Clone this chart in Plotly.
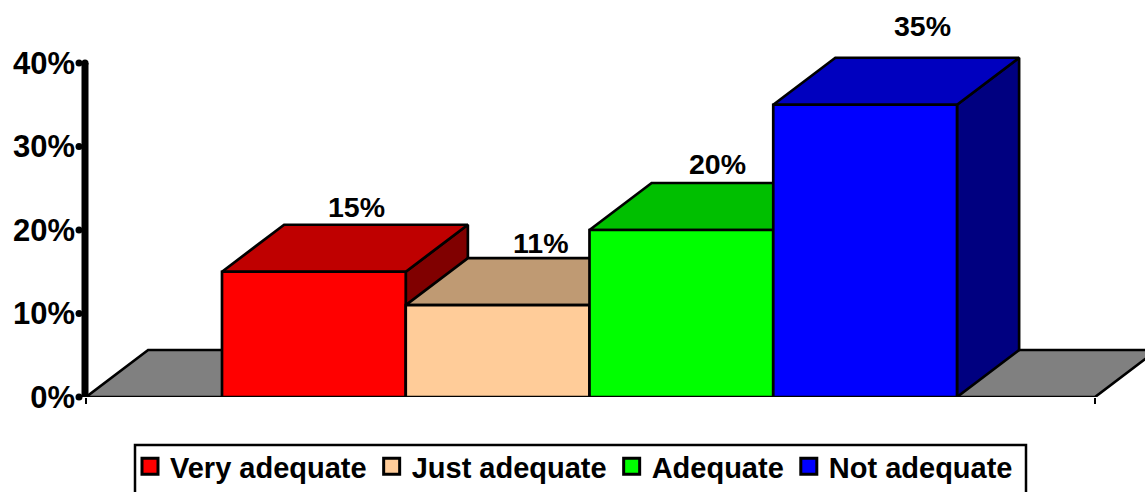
import plotly.graph_objects as go

# Survey result: share of answers per rating
categories = ["Very adequate", "Just adequate", "Adequate", "Not adequate"]
values = [15, 11, 20, 35]
front_colors = ["#FF0000", "#FFCC99", "#00FF00", "#0000FF"]
top_colors = ["#BF0000", "#BF9A73", "#00BF00", "#0000BF"]
side_colors = ["#800000", "#806650", "#008000", "#000080"]
y_ticks = [0, 10, 20, 30, 40]
y_labels = ["0%", "10%", "20%", "30%", "40%"]

# Label nudges in pixels, relative to the back edge of each bar's top
label_dx = [43, 43, 36, 57]
label_dy = [18, 15, 19, 32]

W, H = 1145, 492
LEFT, BOTTOM = 76, 95
PX_PER_BAR = 183.75
PX_PER_PCT = 8.35
BAR_ORIGIN = 222

DEPTH_X = 0.338   # oblique depth, in bar widths
DEPTH_Y = 5.63    # oblique depth, in percentage points
FLOOR_L = (86 - BAR_ORIGIN) / PX_PER_BAR
FLOOR_R = (1095 - BAR_ORIGIN) / PX_PER_BAR
AXIS_X = (85 - BAR_ORIGIN) / PX_PER_BAR
TICK_END_X = (79 - BAR_ORIGIN) / PX_PER_BAR
FONT = "Liberation Sans, Arial, sans-serif"
EDGE = dict(color="black", width=2.7)


def polygon(xs, ys, color):
    return go.Scatter(x=xs + xs[:1], y=ys + ys[:1], mode="lines", fill="toself",
                      fillcolor=color, line=EDGE, showlegend=False, hoverinfo="skip")


fig = go.Figure()

# Floor of the 3D scene
fig.add_trace(polygon([FLOOR_L, FLOOR_L + DEPTH_X, FLOOR_R + DEPTH_X, FLOOR_R],
                      [0, DEPTH_Y, DEPTH_Y, 0], "#808080"))

# Bars are painted left to right so that each one overlaps the previous one
for i, v in enumerate(values):
    l, r = i, i + 1
    fig.add_trace(polygon([r, r + DEPTH_X, r + DEPTH_X, r],
                          [0, DEPTH_Y, v + DEPTH_Y, v], side_colors[i]))
    fig.add_trace(polygon([l, l + DEPTH_X, r + DEPTH_X, r],
                          [v, v + DEPTH_Y, v + DEPTH_Y, v], top_colors[i]))
    fig.add_trace(polygon([l, r, r, l], [0, 0, v, v], front_colors[i]))

# Legend entries
for name, color in zip(categories, front_colors):
    fig.add_trace(go.Scatter(x=[None], y=[None], mode="markers", name=name,
                             marker=dict(symbol="square", size=16, color=color,
                                         line=dict(color="black", width=3))))

# Heavy value axis with rounded ends, and rounded tick ends
fig.add_trace(go.Scatter(x=[AXIS_X, AXIS_X], y=[y_ticks[0], y_ticks[-1]],
                         mode="lines+markers", line=dict(color="black", width=7),
                         marker=dict(color="black", size=7),
                         showlegend=False, hoverinfo="skip"))
fig.add_trace(go.Scatter(x=[TICK_END_X] * len(y_ticks), y=y_ticks, mode="markers",
                         marker=dict(color="black", size=7), showlegend=False,
                         hoverinfo="skip", cliponaxis=False))

annotations = [
    dict(x=i + 0.5, y=v + DEPTH_Y, text=f"{v}%", showarrow=False,
         xshift=label_dx[i], yshift=label_dy[i], yanchor="middle",
         font=dict(family=FONT, size=28.5, color="black", weight="bold"))
    for i, v in enumerate(values)
]

plot_h = H - BOTTOM
plot_w = W - LEFT

# Frame around the legend, running past the bottom of the page
legend_frame = dict(type="rect", xref="paper", yref="paper",
                    x0=(135 - LEFT) / plot_w, x1=(1026 - LEFT) / plot_w,
                    y0=(plot_h - 500) / plot_h, y1=(plot_h - 445) / plot_h,
                    line=dict(color="black", width=2.5), fillcolor="rgba(0,0,0,0)")

fig.update_layout(
    width=W, height=H,
    margin=dict(l=LEFT, r=0, t=0, b=BOTTOM),
    paper_bgcolor="white", plot_bgcolor="white",
    annotations=annotations,
    shapes=[legend_frame],
    xaxis=dict(range=[(LEFT - BAR_ORIGIN) / PX_PER_BAR, (W - BAR_ORIGIN) / PX_PER_BAR],
               showgrid=False, zeroline=False, showline=False,
               tickmode="array", tickvals=[FLOOR_L, FLOOR_R], ticktext=["", ""],
               ticks="outside", ticklen=6, tickwidth=2, tickcolor="black"),
    yaxis=dict(range=[0, plot_h / PX_PER_PCT], tickmode="array", tickvals=y_ticks,
               ticktext=y_labels, showgrid=False, zeroline=False, showline=False,
               ticks="", ticklabelstandoff=0,
               tickfont=dict(family=FONT, size=31, color="black", weight="bold")),
    legend=dict(orientation="h", xanchor="left", x=130 / W, xref="container",
                yanchor="top", y=1 - 441 / H, yref="container",
                borderwidth=0, bgcolor="rgba(0,0,0,0)",
                font=dict(family=FONT, size=29, color="black", weight="bold"),
                itemwidth=30),
)

fig.write_html("out.html", config=dict(displayModeBar=False))
